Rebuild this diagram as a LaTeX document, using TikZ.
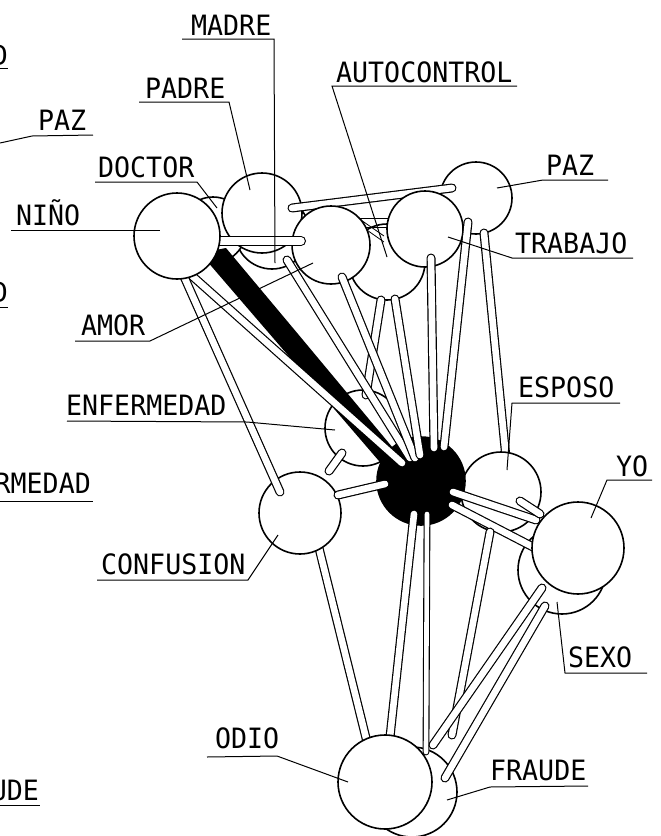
\documentclass[tikz,border=0pt]{standalone}
\usepackage{fontspec}
\newfontfamily\plotfont[FakeStretch=0.95]{DejaVu Sans Mono}
\begin{document}
\begin{tikzpicture}[x=1pt,y=-1pt,
  ball/.style={circle,draw=black,fill=white,line width=1.6pt,inner sep=0pt,minimum size=#1},
  stick/.style={draw=black,double=white,double distance=6.6pt,line width=1.2pt,line cap=round},
  thinstick/.style={draw=black,double=white,double distance=4.6pt,line width=1.1pt,line cap=round},
  leader/.style={draw=black,line width=1pt},
  hatch/.style={draw=black,line width=0.8pt},
  lbl/.style={font={\plotfont\fontsize{28pt}{30pt}\selectfont},inner sep=0pt,anchor=base west},
  lblr/.style={font={\plotfont\fontsize{28pt}{30pt}\selectfont},inner sep=0pt,anchor=base east}]
\useasboundingbox (0,0) rectangle (661,836);
\clip (0,0) rectangle (661,836);
\fill[white] (0,0) rectangle (661,836);

% ---------- back balls ----------
\node[ball=74pt] (madre) at (272,232) {};
\node[ball=66pt] (doctor) at (213,230) {};
\node[ball=76pt] (autoc) at (387,262) {};
\node[ball=76pt] (enf) at (363,428) {};
\node[ball=88pt] (sexo) at (562,570) {};
\node[ball=90pt] (fraude) at (412,792) {};
\node[ball=72pt] (paz) at (476,198) {};
\node[ball=80pt] (padre) at (262,213) {};

% PADRE - PAZ stick
\coordinate (s1a) at (292,208); \coordinate (s1b) at (452,188);
\draw[stick] (s1a) -- (s1b);
% hatch between PADRE and AUTOCONTROL
\coordinate (h1a) at (334,207); \coordinate (h1b) at (384,242);
\coordinate (h2a) at (348,211); \coordinate (h2b) at (384,236);
\coordinate (h3a) at (360,218); \coordinate (h3b) at (388,218);
\coordinate (h4a) at (366,227); \coordinate (h4b) at (388,227);
\draw[hatch] (h1a) -- (h1b); \draw[hatch] (h2a) -- (h2b);
\draw[hatch] (h3a) -- (h3b); \draw[hatch] (h4a) -- (h4b);

\node[ball=78pt] (amor) at (331,245) {};
\node[ball=76pt] (trabajo) at (425,229) {};

% NINO - AMOR stick
\coordinate (s2a) at (215,241); \coordinate (s2b) at (301,241);
\draw[stick,double distance=7.6pt] (s2a) -- (s2b);

% AUTOCONTROL - ENFERMEDAD, PAZ - ESPOSO
\coordinate (f3a) at (381,300); \coordinate (f3b) at (366,395);
\draw[stick] (f3a) -- (f3b);
\coordinate (f6a) at (484,233); \coordinate (f6b) at (506,458);
\draw[stick] (f6a) -- (f6b);
\node[ball=80pt] (esposo) at (501,492) {};

% black wedge NINO - centre
\fill[black] (200,253) -- (226,248) -- (303,340) -- (408,466) -- (385,468) -- cycle;
\node[ball=88pt,fill=black] (core) at (421,481) {};

% fan of sticks into the centre
\coordinate (f1a) at (287,260); \coordinate (f1b) at (410,458);
\coordinate (f2a) at (342,277); \coordinate (f2b) at (415,458);
\coordinate (f4a) at (395,299); \coordinate (f4b) at (420,455);
\coordinate (f5a) at (431,258); \coordinate (f5b) at (434,448);
\coordinate (f8a) at (468,222); \coordinate (f8b) at (444,447);
\coordinate (f7a) at (190,274); \coordinate (f7b) at (402,463);
\draw[stick] (f1a) -- (f1b);
\draw[stick] (f2a) -- (f2b);
\draw[stick] (f4a) -- (f4b);
\draw[stick] (f5a) -- (f5b);
\draw[stick] (f8a) -- (f8b);
\draw[stick] (f7a) -- (f7b);

% centre - YO / SEXO, ESPOSO - YO
\coordinate (r1a) at (453,492); \coordinate (r1b) at (536,520);
\coordinate (r2a) at (452,505); \coordinate (r2b) at (535,548);
\coordinate (r3a) at (520,501); \coordinate (r3b) at (540,514);
\draw[stick] (r1a) -- (r1b);
\draw[stick] (r2a) -- (r2b);
\draw[stick] (r3a) -- (r3b);

% CONFUSION group
\coordinate (l3a) at (317,540); \coordinate (l3b) at (367,742);
\draw[stick] (l3a) -- (l3b);
\node[ball=82pt] (conf) at (300,513) {};
\coordinate (c1a) at (182,272); \coordinate (c1b) at (280,492);
\draw[stick] (c1a) -- (c1b);
\coordinate (l1a) at (338,495); \coordinate (l1b) at (385,484);
\draw[stick] (l1a) -- (l1b);
\coordinate (l2a) at (329,471); \coordinate (l2b) at (342,453);
\draw[stick] (l2a) -- (l2b);
\node[ball=86pt] (nino) at (177,236) {};

% lower sticks
\coordinate (l4a) at (414,514); \coordinate (l4b) at (390,737);
\coordinate (l5a) at (427,514); \coordinate (l5b) at (426,752);
\coordinate (l6a) at (490,532); \coordinate (l6b) at (452,735);
\coordinate (aa) at (542,588); \coordinate (ab) at (433,745);
\coordinate (ba) at (545,606); \coordinate (bb) at (445,778);
\draw[stick] (l4a) -- (l4b);
\draw[thinstick] (l5a) -- (l5b);
\draw[stick] (l6a) -- (l6b);
\draw[stick] (aa) -- (ab);
\draw[stick] (ba) -- (bb);
\node[ball=94pt] (odio) at (385,782) {};
\node[ball=92pt] (yo) at (578,548) {};

% ---------- labels and leaders ----------
\node[lbl] (tmadre) at (191,35) {MADRE};
\draw[leader] (182,39) -- (274,39) -- (275,263);
\node[lbl] (tpadre) at (145,98) {PADRE};
\draw[leader] (139,102) -- (229,102) -- (250,190);
\node[lbl] (tdoctor) at (98,177) {DOCTOR};
\draw[leader] (95,182) -- (197,182) -- (217,208);
\node[lbl] (tnino) at (16,225) {NIÑO};
\draw[leader] (11,230) -- (160,230);
\node[lbl] (tauto) at (336,82) {AUTOCONTROL};
\draw[leader] (517,86) -- (332,86) -- (387,257);
\node[lbl] (tpaz) at (546,175) {PAZ};
\draw[leader] (608,180) -- (543,180) -- (497,188);
\node[lbl] (ttrab) at (515,253) {TRABAJO};
\draw[leader] (633,258) -- (512,258) -- (448,237);
\node[lbl] (tamor) at (81,335) {AMOR};
\draw[leader] (75,341) -- (150,341) -- (313,263);
\node[lbl] (tenf) at (66,415) {ENFERMEDAD};
\draw[leader] (67,421) -- (247,422) -- (335,430);
\node[lbl] (tesp) at (518,397) {ESPOSO};
\draw[leader] (620,403) -- (512,403) -- (507,470);
\node[lbl] (tyo) at (616,476) {YO};
\draw[leader] (652,480) -- (607,480) -- (591,518);
\node[lbl] (tconf) at (101,574) {CONFUSION};
\draw[leader] (97,580) -- (248,580) -- (278,535);
\node[lbl] (tsexo) at (568,667) {SEXO};
\draw[leader] (647,673) -- (565,673) -- (557,602);
\node[lbl] (todio) at (215,748) {ODIO};
\draw[leader] (207,757) -- (277,756) -- (348,782);
\node[lbl] (tfraude) at (490,780) {FRAUDE};
\draw[leader] (588,786) -- (490,787) -- (447,800);

% fragments of the neighbouring panel at the left edge
\node[lblr] (fd1) at (8,65) {D};
\draw[leader] (0,68) -- (8,68);
\node[lbl] (fpaz) at (38,130) {PAZ};
\draw[leader] (0,143) -- (32,136) -- (93,135);
\node[lblr] (fd2) at (8,302) {D};
\draw[leader] (0,307) -- (8,307);
\node[lblr] (fenf) at (91,493) {ENFERMEDAD};
\draw[leader] (0,501) -- (93,501);
\node[lblr] (ffr) at (39,800) {FRAUDE};
\draw[leader] (0,805) -- (40,805);
\end{tikzpicture}
\end{document}
